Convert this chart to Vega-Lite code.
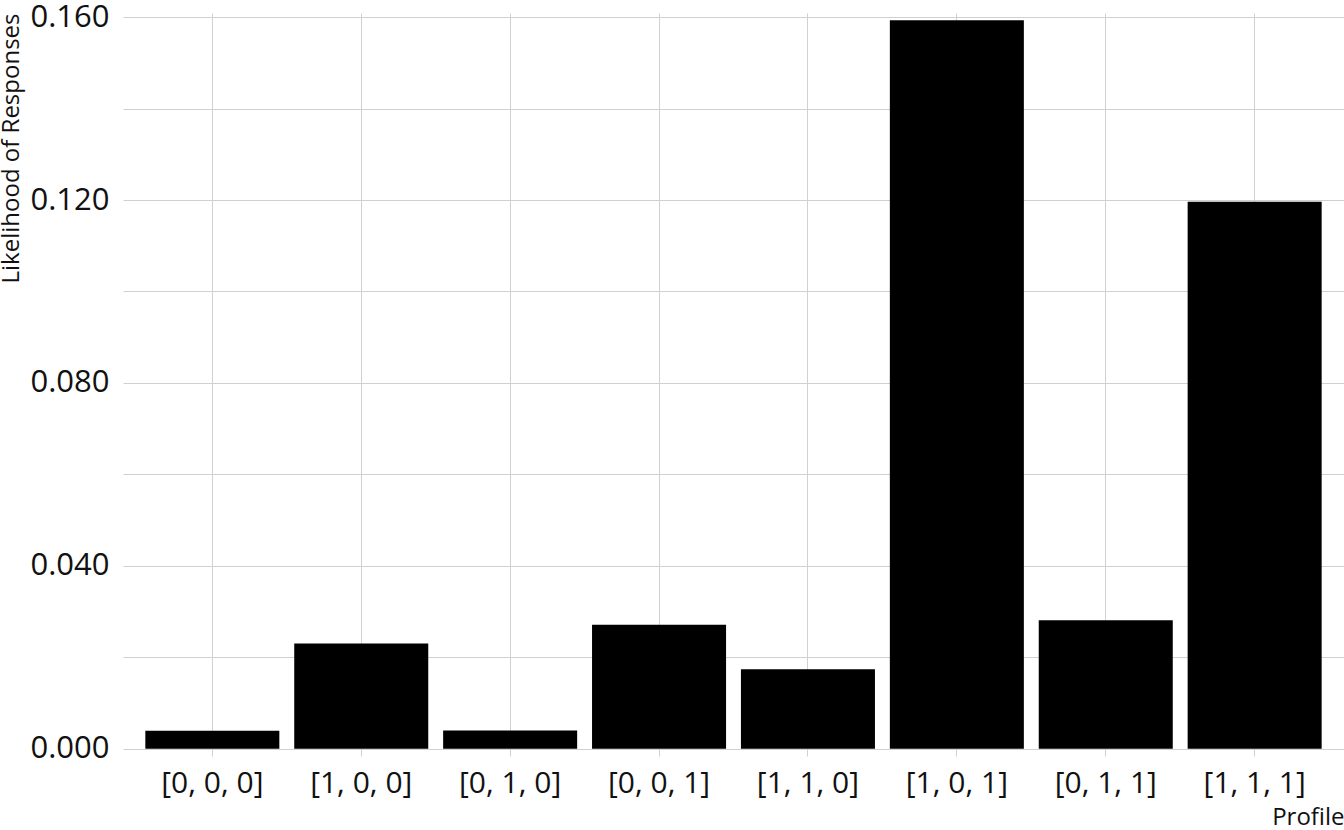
{
  "$schema": "https://vega.github.io/schema/vega-lite/v6.json",
  "autosize": "none",
  "width": 1221,
  "height": 743,
  "padding": {"left": 123, "top": 13, "right": 0, "bottom": 74},
  "background": "white",
  "config": {
    "view": {"stroke": null},
    "font": "Open Sans",
    "axis": {
      "domain": false,
      "ticks": false,
      "gridColor": "#d0d0d0",
      "gridWidth": 1,
      "labelFont": "Open Sans",
      "titleFont": "Open Sans",
      "labelColor": "#111111",
      "titleColor": "#111111",
      "titleFontWeight": "normal"
    }
  },
  "data": {
    "values": [
      {"profile": "[0, 0, 0]", "likelihood": 0.0039},
      {"profile": "[1, 0, 0]", "likelihood": 0.0230},
      {"profile": "[0, 1, 0]", "likelihood": 0.0040},
      {"profile": "[0, 0, 1]", "likelihood": 0.0271},
      {"profile": "[1, 1, 0]", "likelihood": 0.0174},
      {"profile": "[1, 0, 1]", "likelihood": 0.1593},
      {"profile": "[0, 1, 1]", "likelihood": 0.0281},
      {"profile": "[1, 1, 1]", "likelihood": 0.1196}
    ]
  },
  "mark": {"type": "bar", "color": "black"},
  "encoding": {
    "x": {
      "field": "profile",
      "type": "nominal",
      "sort": null,
      "scale": {"paddingInner": 0.1, "paddingOuter": 0.15},
      "axis": {
        "title": "Profile",
        "labelAngle": 0,
        "labelFontSize": 30,
        "labelPadding": 12,
        "labelBaseline": "top",
        "grid": true,
        "titleFontSize": 24,
        "titleAnchor": "end",
        "titleAlign": "right",
        "titleBaseline": "alphabetic",
        "titleX": 1221,
        "titleY": 68
      }
    },
    "y": {
      "field": "likelihood",
      "type": "quantitative",
      "scale": {"domain": [-0.0016, 0.1609], "nice": false, "zero": false},
      "axis": {
        "title": "Likelihood of Responses",
        "values": [0, 0.02, 0.04, 0.06, 0.08, 0.1, 0.12, 0.14, 0.16],
        "labelExpr": "round(datum.value * 100) % 4 == 0 ? format(datum.value, '.3f') : ''",
        "labelFontSize": 31,
        "labelPadding": 14,
        "labelBaseline": "middle",
        "titleFontSize": 24,
        "titleAngle": 270,
        "titleAlign": "right",
        "titleBaseline": "alphabetic",
        "titleX": -105,
        "titleY": 0
      }
    }
  }
}
